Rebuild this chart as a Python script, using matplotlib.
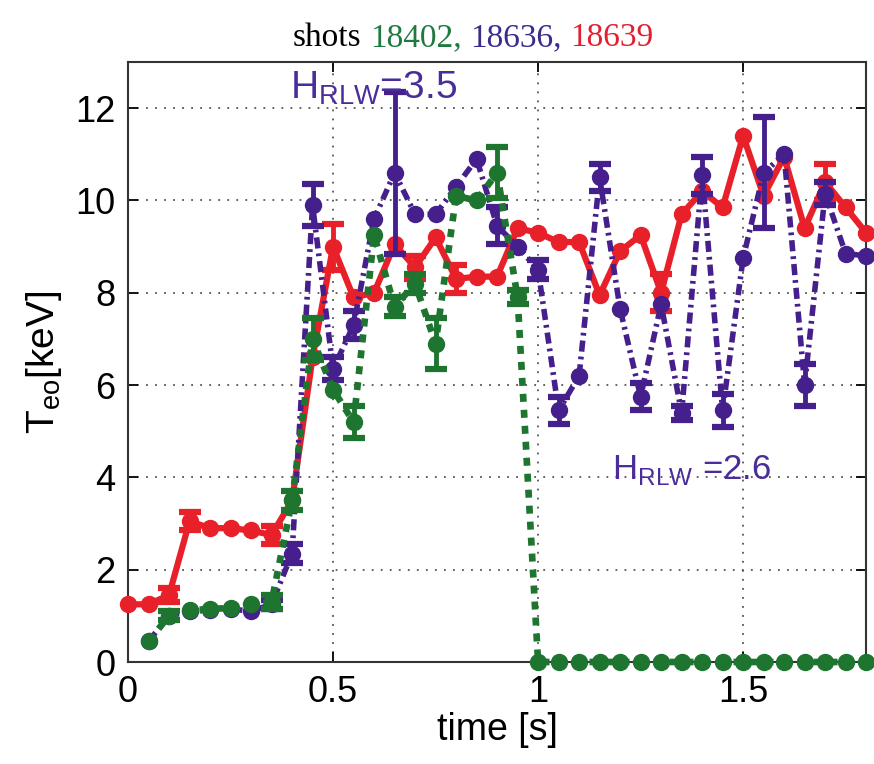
import numpy as np
import matplotlib
matplotlib.use("Agg")
import matplotlib.pyplot as plt
from matplotlib.offsetbox import TextArea, HPacker, AnchoredOffsetbox

# ---------------- data ----------------
t_red = np.round(np.arange(0, 37) * 0.05, 2)
red = [1.25, 1.25, 1.45, 3.05, 2.9, 2.9, 2.85, 2.75, 3.5, 6.6,
       9.0, 7.9, 8.0, 9.05, 8.55, 9.2, 8.3, 8.35, 8.35, 9.4,
       9.3, 9.1, 9.1, 7.95, 8.9, 9.25, 8.0, 9.7, 10.2, 9.85,
       11.4, 10.1, 10.95, 9.4, 10.4, 9.85, 9.3]
red_err = {0.1: 0.15, 0.15: 0.2, 0.35: 0.2, 0.5: 0.5, 0.7: 0.25,
           0.8: 0.3, 1.3: 0.4, 1.7: 0.4}

t_green = np.round(np.arange(1, 37) * 0.05, 2)
green = [0.45, 1.0, 1.12, 1.15, 1.17, 1.25, 1.3, 3.5, 7.0, 5.9,
         5.2, 9.25, 7.7, 8.2, 6.9, 10.1, 10.0, 10.6, 7.9,
         0, 0, 0, 0, 0, 0, 0, 0, 0, 0, 0, 0, 0, 0, 0, 0, 0]
green_err = {0.1: 0.1, 0.35: 0.15, 0.4: 0.2, 0.45: 0.45, 0.55: 0.35,
             0.65: 0.2, 0.7: 0.2, 0.75: 0.55, 0.9: 0.55, 0.95: 0.15}

t_purple = np.round(np.arange(1, 37) * 0.05, 2)
purple = [0.45, 1.0, 1.1, 1.12, 1.15, 1.1, 1.25, 2.35, 9.9, 6.35,
          7.3, 9.6, 10.6, 9.7, 9.7, 10.3, 10.9, 9.45, 9.0, 8.5,
          5.45, 6.2, 10.5, 7.65, 5.75, 7.75, 5.4, 10.55, 5.45, 8.75,
          10.6, 11.0, 6.0, 10.15, 8.85, 8.8]
purple_err = {0.35: 0.1, 0.4: 0.2, 0.45: 0.45, 0.5: 0.25, 0.55: 0.3,
              0.65: 1.75, 0.9: 0.4, 1.0: 0.2, 1.05: 0.3, 1.15: 0.3,
              1.25: 0.3, 1.35: 0.15, 1.4: 0.4, 1.45: 0.35, 1.55: 1.2,
              1.65: 0.45, 1.7: 0.25}

xticks = [0, 0.5, 1, 1.5]
xticklabels = ["0", "0.5", "1", "1.5"]
yticks = [0, 2, 4, 6, 8, 10, 12]
yticklabels = ["0", "2", "4", "6", "8", "10", "12"]

C_RED = "#e8202a"
C_GREEN = "#1e7530"
C_PURPLE = "#45208c"
C_TXT_PURPLE = "#4b2d9a"

# ---------------- figure ----------------
fig = plt.figure(figsize=(8.74, 7.64), dpi=100)
ax = fig.add_axes([0.1465, 0.1335, 0.991 - 0.1465, 0.9188 - 0.1335])

sans = ["Liberation Sans", "DejaVu Sans"]
plt.rcParams["mathtext.fontset"] = "custom"
plt.rcParams["mathtext.rm"] = "Liberation Sans"


def draw(tt, yy, errs, color, ls, lw, z):
    tt = np.asarray(tt)
    yy = np.asarray(yy, dtype=float)
    ax.plot(tt, yy, linestyle=ls, color=color, linewidth=lw,
            marker="o", markersize=11.5, markerfacecolor=color,
            markeredgecolor=color, zorder=z, clip_on=False)
    et = np.array(list(errs.keys()))
    idx = [int(np.argmin(np.abs(tt - e))) for e in et]
    ev = np.array(list(errs.values()))
    ax.errorbar(tt[idx], yy[idx], yerr=ev, fmt="none", ecolor=color,
                elinewidth=3.5, capsize=8, capthick=4.5, zorder=z,
                clip_on=False)


draw(t_red, red, red_err, C_RED, "-", 4.5, 3)
draw(t_purple, purple, purple_err, C_PURPLE, (0, (2.0, 0.9, 0.5, 0.9)), 4.0, 4)
draw(t_green, green, green_err, C_GREEN, (0, (1.2, 1.2)), 4.8, 5)

ax.set_xlim(0, 1.8)
ax.set_ylim(0, 13)
ax.set_xticks(xticks)
ax.set_xticklabels(xticklabels)
ax.set_yticks(yticks)
ax.set_yticklabels(yticklabels)
ax.tick_params(direction="in", top=True, right=True, length=7, width=1.3,
               labelsize=26, pad=9)
for lab in ax.get_xticklabels() + ax.get_yticklabels():
    lab.set_fontfamily(sans)
ax.grid(True, linestyle=(0, (1, 4)), color="#555555", linewidth=1.3)
ax.set_axisbelow(True)
for s in ax.spines.values():
    s.set_linewidth(1.5)
    s.set_color("#333333")

ax.set_xlabel("time [s]", fontsize=27, family=sans, labelpad=2)
ax.set_ylabel(r"T$_{\mathregular{eo}}$[keV]", fontsize=28, family=sans, labelpad=8)

ax.text(0.395, 12.42, r"H$_{\mathregular{RLW}}$=3.5", color=C_TXT_PURPLE,
        fontsize=28, family=sans, va="center", ha="left", zorder=6)
ax.text(1.18, 4.15, r"H$_{\mathregular{RLW}}$ =2.6", color=C_TXT_PURPLE,
        fontsize=25, family=sans, va="center", ha="left", zorder=6)

# multi-coloured title
serif = ["Liberation Serif", "DejaVu Serif"]
parts = [("shots", "black"), ("18402,", "#1f7a40"),
         ("18636,", "#3d2a8e"), ("18639", "#e02030")]
boxes = [TextArea(p, textprops=dict(color=c, size=24, family=serif))
         for p, c in parts]
pack = HPacker(children=boxes, align="baseline", pad=0, sep=6)
anch = AnchoredOffsetbox(loc="center", child=pack, pad=0, borderpad=0,
                         frameon=False, bbox_to_anchor=(0.541, 0.950),
                         bbox_transform=fig.transFigure)
fig.add_artist(anch)

fig.savefig("out.png", dpi=100)
